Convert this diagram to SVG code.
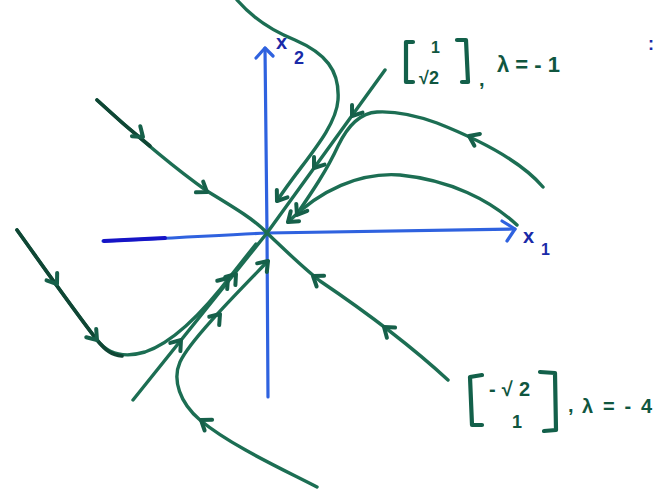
<svg xmlns="http://www.w3.org/2000/svg" xmlns:xlink="http://www.w3.org/1999/xlink" width="656" height="494" viewBox="0 0 656 494">
<style>
.axis{fill:none;stroke:#2f62df;stroke-width:3.2;stroke-linecap:round;stroke-linejoin:round}
.axisdark{fill:none;stroke:#1614c6;stroke-width:4;stroke-linecap:round}
.traj{fill:none;stroke:#1c6e53;stroke-width:3.4;stroke-linecap:round;stroke-linejoin:round}
.dark{fill:none;stroke:#0f4634;stroke-width:3.6;stroke-linecap:round;stroke-linejoin:round}
.brk{fill:none;stroke:#13604a;stroke-width:4.2;stroke-linecap:round;stroke-linejoin:round}
.lbl{fill:#10563f;font-family:"Liberation Sans","DejaVu Sans",sans-serif;font-weight:bold}
.ax{fill:#1a2aa8;font-family:"Liberation Sans","DejaVu Sans",sans-serif;font-weight:bold}
</style>
<defs>
<path id="arr" d="M-9,-6.5 L0,0 L-9,6.5" fill="none" stroke="#16604a" stroke-width="4" stroke-linecap="round" stroke-linejoin="round"/>
</defs>
<rect width="656" height="494" fill="#ffffff"/>
<g id="axes">
<path class="axis" d="M103,241 C160,239 220,235 267,233 L515,229"/>
<path class="axisdark" d="M104,241 L165,238"/>
<path class="axis" d="M502,221 L515,229 L507,241"/>
<path class="axis" d="M268,397 L267,233 L265,48"/>
<path class="axis" d="M256,58 L265,48 L273,56"/>
<text class="ax" x="276" y="49" font-size="20">x</text>
<text class="ax" x="294" y="64" font-size="18">2</text>
<text class="ax" x="523" y="243" font-size="20">x</text>
<text class="ax" x="541" y="255" font-size="16">1</text>
<text class="ax" x="648" y="50" font-size="18">:</text>
</g>
<g id="trajectories">
<path class="traj" d="M237,0 C250,15 270,30 295,40 C325,53 340,70 338,100 C336,130 300,165 277,201"/>
<path class="traj" d="M385,70 L267,233 L133,400"/>
<path class="traj" d="M543,187 C520,160 480,140 437,123 C415,115 395,111 377,112 C360,113 348,125 338,146 C327,170 312,192 297,214"/>
<path class="traj" d="M517,225 C490,200 450,180 400,175 C360,172 320,190 288,222"/>
<path class="traj" d="M97,100 C130,130 170,165 207,191 C235,208 255,220 267,233"/>
<path class="dark" d="M97,100 C115,117 135,134 150,146"/>
<path class="traj" d="M267,233 C285,250 300,265 320,281 C360,308 410,345 448,380"/>
<path class="traj" d="M17,230 C40,262 70,305 97,340 C108,354 125,358 145,352 C175,342 205,310 233,273 L256,244"/>
<path class="dark" d="M17,230 C40,262 70,305 97,340 C106,351 112,355 122,356"/>
<path class="traj" d="M317,487 C280,468 230,445 200,420 C180,403 172,380 180,362 C190,340 240,290 268,261"/>
</g>
<g id="arrowheads">
<use xlink:href="#arr" transform="translate(277,201) rotate(125)"/>
<use xlink:href="#arr" transform="translate(352,116) rotate(126)"/>
<use xlink:href="#arr" transform="translate(314,168) rotate(126)"/>
<use xlink:href="#arr" transform="translate(181,340) rotate(-51)"/>
<use xlink:href="#arr" transform="translate(236,274) rotate(-51)"/>
<use xlink:href="#arr" transform="translate(469,136) rotate(205)"/>
<use xlink:href="#arr" transform="translate(297,215) rotate(122)"/>
<use xlink:href="#arr" transform="translate(288,222) rotate(140)"/>
<use xlink:href="#arr" transform="translate(143,137) rotate(40)"/>
<use xlink:href="#arr" transform="translate(207,192) rotate(34)"/>
<use xlink:href="#arr" transform="translate(57,284) rotate(55)"/>
<use xlink:href="#arr" transform="translate(97,340) rotate(50)"/>
<use xlink:href="#arr" transform="translate(228,278) rotate(-50)"/>
<use xlink:href="#arr" transform="translate(201,420) rotate(215)"/>
<use xlink:href="#arr" transform="translate(220,314) rotate(-50)"/>
<use xlink:href="#arr" transform="translate(268,261) rotate(-48)"/>
<use xlink:href="#arr" transform="translate(313,276) rotate(215)"/>
<use xlink:href="#arr" transform="translate(384,327) rotate(219)"/>
</g>
<g id="label-eig1">
<path class="brk" d="M413,42 L406,42 L406,82 L413,82"/>
<path class="brk" d="M457,40 L466,40 L468,82 L462,82"/>
<text class="lbl" x="431" y="53" font-size="16">1</text>
<text class="lbl" x="419" y="84" font-size="18">√2</text>
<text class="lbl" x="479" y="86" font-size="20">,</text>
<text class="lbl" x="497" y="72" font-size="22" textLength="63" lengthAdjust="spacing">λ=-1</text>
</g>
<g id="label-eig2">
<path class="brk" d="M482,375 L470,377 L472,425 L482,425"/>
<path class="brk" d="M540,372 L555,373 L556,430 L544,431"/>
<text class="lbl" x="489" y="396" font-size="20" textLength="41" lengthAdjust="spacing">-√2</text>
<text class="lbl" x="512" y="428" font-size="18">1</text>
<text class="lbl" x="568" y="412" font-size="20">,</text>
<text class="lbl" x="582" y="413" font-size="20" textLength="70" lengthAdjust="spacing">λ=-4</text>
</g>
</svg>
